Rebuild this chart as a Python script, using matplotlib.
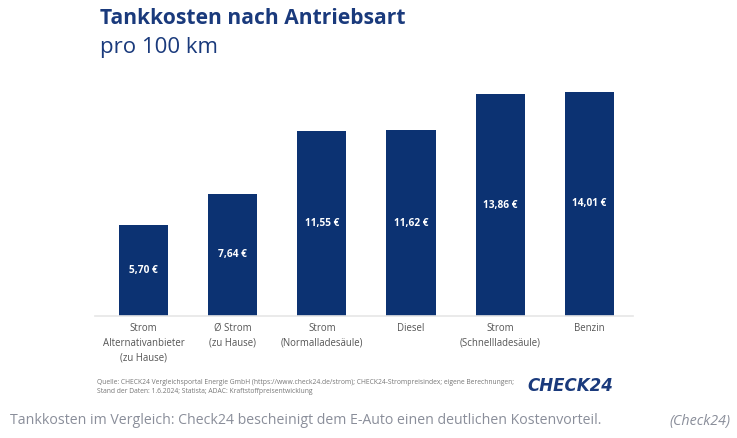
import matplotlib
matplotlib.use("Agg")
import matplotlib.pyplot as plt

categories = ["Strom\nAlternativanbieter\n(zu Hause)", "Ø Strom\n(zu Hause)",
              "Strom\n(Normalladesäule)", "Diesel",
              "Strom\n(Schnellladesäule)", "Benzin"]
values = [5.70, 7.64, 11.55, 11.62, 13.86, 14.01]
value_labels = ["5,70 €", "7,64 €", "11,55 €", "11,62 €", "13,86 €", "14,01 €"]

title = "Tankkosten nach Antriebsart"
subtitle = "pro 100 km"
source = ("Quelle: CHECK24 Vergleichsportal Energie GmbH (https://www.check24.de/strom); CHECK24-Strompreisindex; eigene Berechnungen;\n"
          "Stand der Daten: 1.6.2024; Statista; ADAC: Kraftstoffpreisentwicklung")
caption = "Tankkosten im Vergleich: Check24 bescheinigt dem E-Auto einen deutlichen Kostenvorteil."
credit = "(Check24)"

navy = "#0c3272"
W, H = 737, 438
fig = plt.figure(figsize=(W / 100, H / 100), dpi=100)
fig.patch.set_facecolor("white")

font = ["Open Sans", "DejaVu Sans"]

# axes: left 95px, right 633px, baseline y=316, top y=80
ax = fig.add_axes([95 / W, (H - 316) / H, (633 - 95) / W, (316 - 80) / H])
x = list(range(len(values)))
ax.bar(x, values, width=0.55, color=navy, zorder=2)
ax.set_xlim(-0.544, 5.49)
ax.set_ylim(0, 236 / 15.99)
for i, (v, lab) in enumerate(zip(values, value_labels)):
    ax.text(i, v / 2, lab, ha="center", va="center", color="white",
            fontsize=7.3, fontweight="bold", family=font)
ax.set_xticks(x)
ax.set_xticklabels(categories, fontsize=6.9, color="#555555", family=font,
                   linespacing=1.5, va="top")
ax.tick_params(axis="x", length=0, pad=5)
ax.set_yticks([])
for s in ["top", "right", "left"]:
    ax.spines[s].set_visible(False)
ax.spines["bottom"].set_color("#e6e6e6")
ax.spines["bottom"].set_linewidth(1.2)
ax.set_facecolor("white")

fig.text(100 / W, 1 - 18 / H, title, fontsize=15.1, fontweight="bold",
         color="#1a3a7c", family=font, va="center", ha="left")
fig.text(100 / W, 1 - 47 / H, subtitle, fontsize=16, color="#1a3a7c",
         family=font, va="center", ha="left")
fig.text(97 / W, 1 - 387 / H, source, fontsize=4.9, color="#777777",
         family=font, va="center", ha="left", linespacing=1.5)
fig.text(527 / W, 1 - 386 / H, "CHECK24", fontsize=12, fontweight="bold",
         fontstyle="italic", color="#1a3a7c", family=["DejaVu Sans"],
         va="center", ha="left")
fig.text(10 / W, 1 - 421 / H, caption, fontsize=10.2, color="#8a8e9a",
         family=font, va="center", ha="left")
fig.text(730 / W, 1 - 421 / H, credit, fontsize=10.3, color="#8a8e9a",
         fontstyle="italic", family=font, va="center", ha="right")

fig.savefig("out.png", dpi=100, facecolor="white")
